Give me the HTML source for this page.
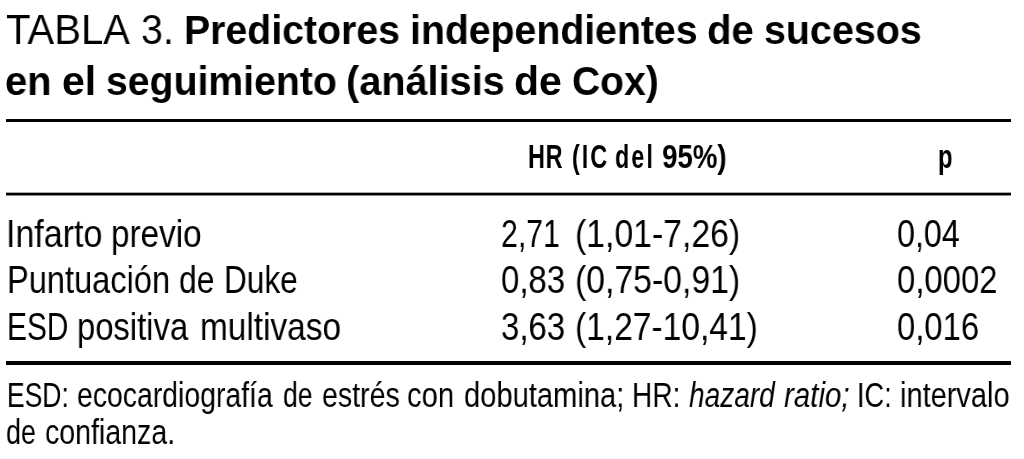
<!DOCTYPE html>
<html><head><meta charset="utf-8">
<style>
html,body{margin:0;padding:0;background:#fff;}
body{width:1024px;height:459px;position:relative;overflow:hidden;font-family:"Liberation Sans",sans-serif;color:#000;}
.w{position:absolute;white-space:nowrap;line-height:1;transform-origin:0 0;will-change:transform;}
.tb,.hb,.hl{font-weight:bold;}
.hl{letter-spacing:3px;}
.fi{font-style:italic;}
.rl{position:absolute;left:6px;width:1005px;background:#000;}
</style></head><body>
<div class="rl" style="top:119px;height:3px;"></div>
<div class="rl" style="top:192px;height:1px;background:#aaa;"></div>
<div class="rl" style="top:193px;height:2px;"></div>
<div class="rl" style="top:195px;height:1px;background:#888;"></div>
<div class="rl" style="top:361px;height:4px;"></div>
<div class="w tl" style="left:6.31px;top:7.93px;font-size:42.6px;transform:scaleX(0.9412)">TABLA</div>
<div class="w tl" style="left:140.95px;top:7.93px;font-size:42.6px;transform:scaleX(0.9233)">3.</div>
<div class="w tb" style="left:184.03px;top:9.89px;font-size:41px;transform:scaleX(0.9575)">Predictores</div>
<div class="w tb" style="left:410.23px;top:9.89px;font-size:41px;transform:scaleX(0.9561)">independientes</div>
<div class="w tb" style="left:707.35px;top:9.89px;font-size:41px;transform:scaleX(0.9773)">de</div>
<div class="w tb" style="left:763.98px;top:9.89px;font-size:41px;transform:scaleX(0.9613)">sucesos</div>
<div class="w tb" style="left:5.35px;top:60.59px;font-size:41px;transform:scaleX(0.9733)">en</div>
<div class="w tb" style="left:62.21px;top:60.59px;font-size:41px;transform:scaleX(0.9931)">el</div>
<div class="w tb" style="left:105.59px;top:60.59px;font-size:41px;transform:scaleX(0.9559)">seguimiento</div>
<div class="w tb" style="left:346.06px;top:60.59px;font-size:41px;transform:scaleX(0.9675)">(análisis</div>
<div class="w tb" style="left:514.01px;top:60.59px;font-size:41px;transform:scaleX(0.9932)">de</div>
<div class="w tb" style="left:571.80px;top:60.59px;font-size:41px;transform:scaleX(0.9517)">Cox)</div>
<div class="w hl" style="left:527.72px;top:139.01px;font-size:34px;letter-spacing:1px;transform:scaleX(0.6915)">HR</div>
<div class="w hl" style="left:571.63px;top:139.01px;font-size:34px;transform:scaleX(0.6854)">(IC</div>
<div class="w hl" style="left:615.21px;top:139.01px;font-size:34px;transform:scaleX(0.6865)">del</div>
<div class="w hb" style="left:661.89px;top:139.01px;font-size:34px;transform:scaleX(0.8143)">95%)</div>
<div class="w hb" style="left:937.60px;top:139.01px;font-size:34px;transform:scaleX(0.7000)">p</div>
<div class="w r" style="left:6.27px;top:214.50px;font-size:38.5px;transform:scaleX(0.8827)">Infarto</div>
<div class="w r" style="left:111.41px;top:214.50px;font-size:38.5px;transform:scaleX(0.8630)">previo</div>
<div class="w r" style="left:500.73px;top:214.50px;font-size:38.5px;transform:scaleX(0.7859)">2,71</div>
<div class="w r" style="left:575.25px;top:214.50px;font-size:38.5px;transform:scaleX(0.8772)">(1,01-7,26)</div>
<div class="w r" style="left:897.47px;top:214.50px;font-size:38.5px;transform:scaleX(0.8382)">0,04</div>
<div class="w r" style="left:7.06px;top:260.80px;font-size:38.5px;transform:scaleX(0.8465)">Puntuación</div>
<div class="w r" style="left:179.45px;top:260.80px;font-size:38.5px;transform:scaleX(0.8256)">de</div>
<div class="w r" style="left:224.04px;top:260.80px;font-size:38.5px;transform:scaleX(0.8200)">Duke</div>
<div class="w r" style="left:500.59px;top:260.80px;font-size:38.5px;transform:scaleX(0.8563)">0,83</div>
<div class="w r" style="left:575.25px;top:260.80px;font-size:38.5px;transform:scaleX(0.8772)">(0,75-0,91)</div>
<div class="w r" style="left:897.44px;top:260.80px;font-size:38.5px;transform:scaleX(0.8539)">0,0002</div>
<div class="w r" style="left:6.67px;top:307.60px;font-size:38.5px;transform:scaleX(0.7757)">ESD</div>
<div class="w r" style="left:76.85px;top:307.60px;font-size:38.5px;transform:scaleX(0.8508)">positiva</div>
<div class="w r" style="left:199.70px;top:307.60px;font-size:38.5px;transform:scaleX(0.8671)">multivaso</div>
<div class="w r" style="left:500.59px;top:307.60px;font-size:38.5px;transform:scaleX(0.8563)">3,63</div>
<div class="w r" style="left:575.26px;top:307.60px;font-size:38.5px;transform:scaleX(0.8714)">(1,27-10,41)</div>
<div class="w r" style="left:897.45px;top:307.60px;font-size:38.5px;transform:scaleX(0.8522)">0,016</div>
<div class="w f" style="left:6.76px;top:377.64px;font-size:35.5px;transform:scaleX(0.7455)">ESD:</div>
<div class="w f" style="left:77.00px;top:377.64px;font-size:35.5px;transform:scaleX(0.8000)">ecocardiografía</div>
<div class="w f" style="left:283.11px;top:377.64px;font-size:35.5px;transform:scaleX(0.7472)">de</div>
<div class="w f" style="left:321.59px;top:377.64px;font-size:35.5px;transform:scaleX(0.8043)">estrés</div>
<div class="w f" style="left:407.25px;top:377.64px;font-size:35.5px;transform:scaleX(0.8226)">con</div>
<div class="w f" style="left:463.86px;top:377.64px;font-size:35.5px;transform:scaleX(0.8205)">dobutamina;</div>
<div class="w f" style="left:632.23px;top:377.64px;font-size:35.5px;transform:scaleX(0.7909)">HR:</div>
<div class="w fi" style="left:689.41px;top:377.64px;font-size:35.5px;transform:scaleX(0.7907)">hazard</div>
<div class="w fi" style="left:783.87px;top:377.64px;font-size:35.5px;transform:scaleX(0.8312)">ratio;</div>
<div class="w f" style="left:857.00px;top:377.64px;font-size:35.5px;transform:scaleX(0.7667)">IC:</div>
<div class="w f" style="left:900.37px;top:377.64px;font-size:35.5px;transform:scaleX(0.8168)">intervalo</div>
<div class="w f" style="left:6.49px;top:414.69px;font-size:35.5px;transform:scaleX(0.7556)">de</div>
<div class="w f" style="left:45.09px;top:414.69px;font-size:35.5px;transform:scaleX(0.8038)">confianza.</div>
</body></html>
